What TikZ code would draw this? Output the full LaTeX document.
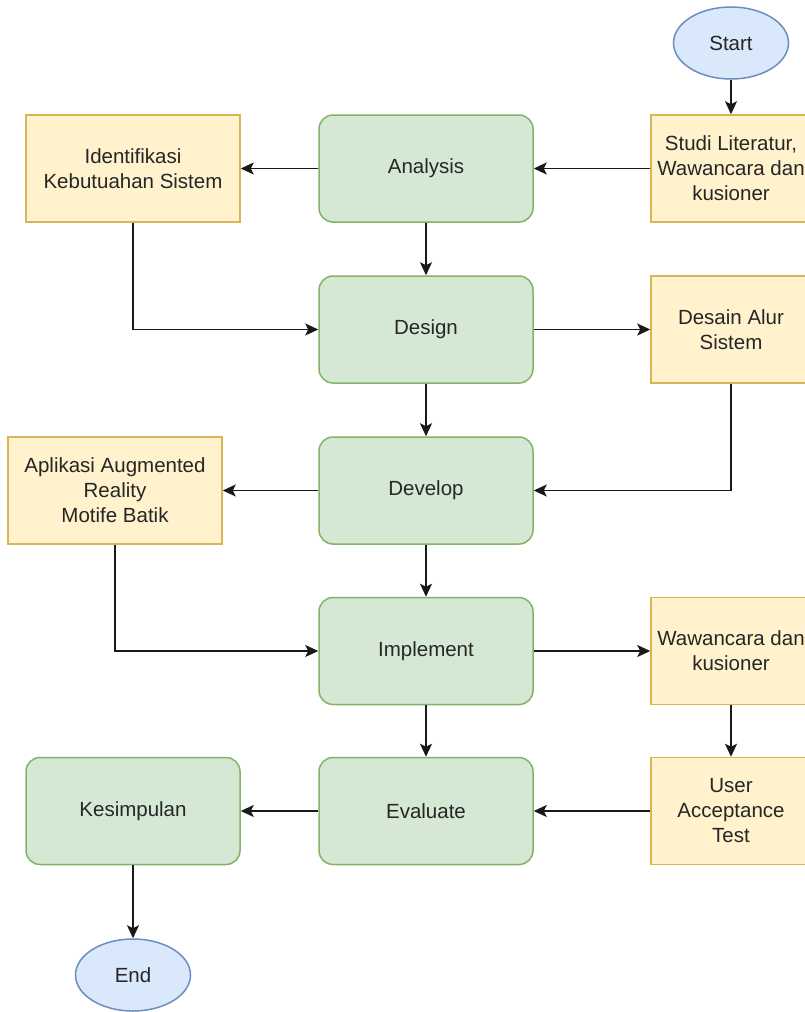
\documentclass[tikz,border=0pt]{standalone}
\usepackage{fontspec}
\setmainfont{Liberation Sans}
\usetikzlibrary{arrows.meta,shapes.geometric}
\definecolor{gfill}{HTML}{D5E8D4}
\definecolor{gline}{HTML}{82B366}
\definecolor{yfill}{HTML}{FFF2CC}
\definecolor{yline}{HTML}{D6B656}
\definecolor{bfill}{HTML}{DAE8FC}
\definecolor{bline}{HTML}{6C8EBF}
\definecolor{txt}{HTML}{262626}
\begin{document}
\begin{tikzpicture}[x=1pt,y=-1pt,
  every node/.style={font=\fontsize{20.5}{25}\selectfont, text=txt, align=center, inner sep=0pt, line width=1.5pt},
  gbox/.style={draw=gline, fill=gfill, rounded corners=14pt, minimum width=214pt, minimum height=107pt},
  ybox/.style={draw=yline, fill=yfill, minimum width=214pt, minimum height=107pt},
  ywide/.style={draw=yline, fill=yfill, minimum width=160pt, minimum height=107pt},
  term/.style={draw=bline, fill=bfill, ellipse, minimum width=115pt, minimum height=72pt},
  conn/.style={draw=black!90, line width=1.5pt, -{Stealth[length=13pt,width=12pt,inset=3pt]}}]
\useasboundingbox (0,0) rectangle (805,1012);
\fill[white] (0,0) rectangle (805,1012);
% nodes
\node[term] (start) at (731,43) {Start};
\node[ywide] (studi) at (731,168.5) {Studi Literatur,\\Wawancara dan\\kusioner};
\node[gbox] (analysis) at (426,168.5) {Analysis};
\node[ybox] (ident) at (133,168.5) {Identifikasi\\Kebutuahan Sistem};
\node[gbox] (design) at (426,329.5) {Design};
\node[ywide] (desain) at (731,329.5) {Desain Alur\\Sistem};
\node[gbox] (develop) at (426,490.5) {Develop};
\node[ybox] (aplikasi) at (115,490.5) {Aplikasi Augmented\\Reality\\Motife Batik};
\node[gbox] (implement) at (426,651) {Implement};
\node[ywide] (wawan) at (731,651) {Wawancara dan\\kusioner};
\node[gbox] (evaluate) at (426,811) {Evaluate};
\node[ywide] (uat) at (731,811) {User\\Acceptance\\Test};
\node[gbox] (kesimpulan) at (133,811) {Kesimpulan};
\node[term] (end) at (133,975) {End};
% connectors
\draw[conn] (start) -- (studi);
\draw[conn] (studi) -- (analysis);
\draw[conn] (analysis) -- (ident);
\draw[conn] (analysis) -- (design);
\draw[conn] (ident.south) |- (design.west);
\draw[conn] (design) -- (desain);
\draw[conn] (desain.south) |- (develop.east);
\draw[conn] (design) -- (develop);
\draw[conn] (develop) -- (aplikasi);
\draw[conn] (aplikasi.south) |- (implement.west);
\draw[conn] (develop) -- (implement);
\draw[conn] (implement) -- (wawan);
\draw[conn] (wawan) -- (uat);
\draw[conn] (implement) -- (evaluate);
\draw[conn] (uat) -- (evaluate);
\draw[conn] (evaluate) -- (kesimpulan);
\draw[conn] (kesimpulan) -- (end);
\end{tikzpicture}
\end{document}
